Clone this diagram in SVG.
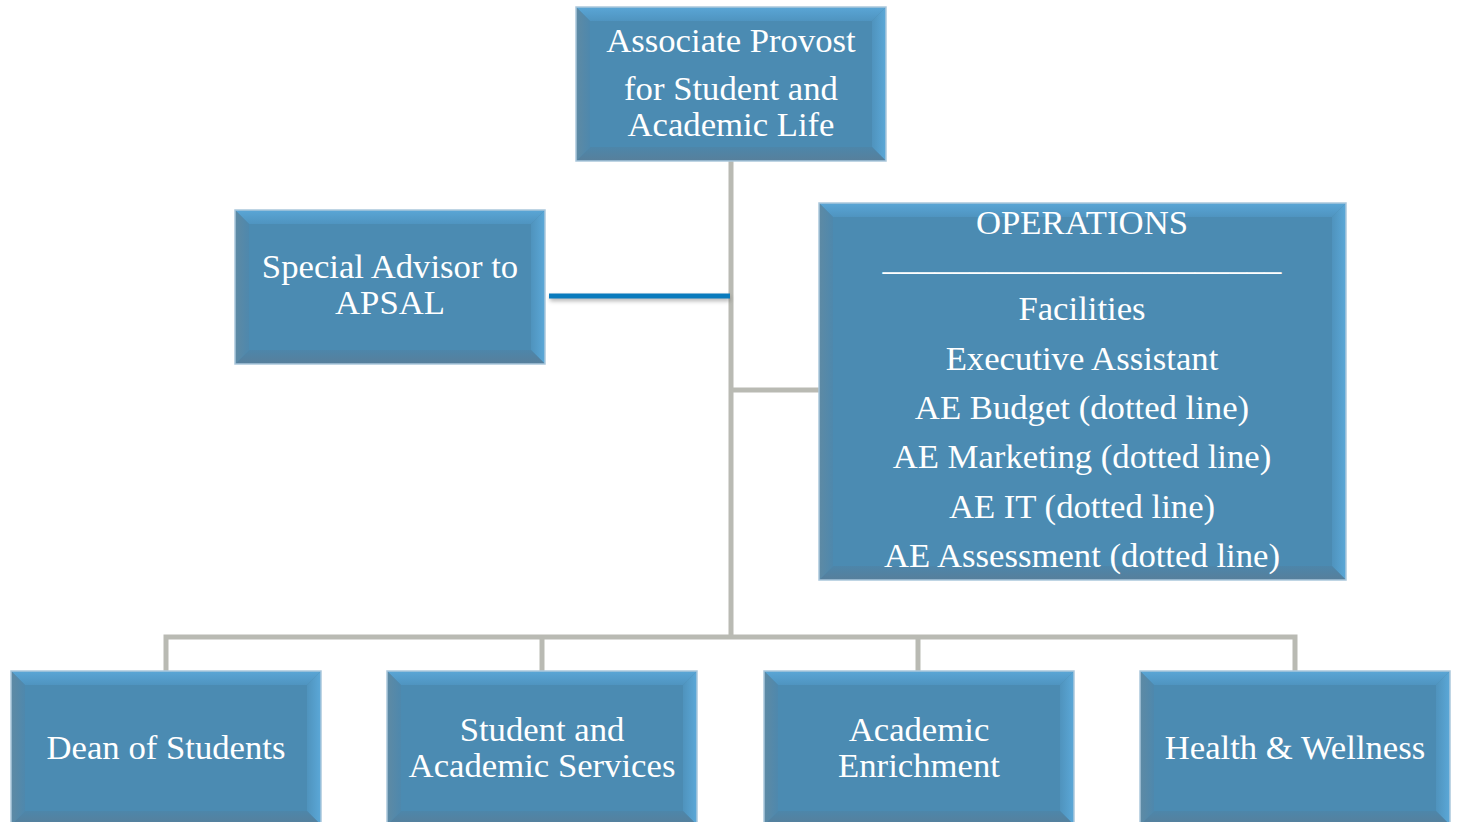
<svg xmlns="http://www.w3.org/2000/svg" xmlns:xlink="http://www.w3.org/1999/xlink" width="1457" height="822" viewBox="0 0 1457 822">
<style>
.t{font-family:"Liberation Serif","Times New Roman",serif;font-size:34.7px;fill:#ffffff;text-anchor:middle}
.face{fill:#4b8bb2}
.bt{fill:url(#gTop)}
.br{fill:url(#gRight)}
.bb{fill:url(#gBot)}
.bl{fill:url(#gLeft)}
.edge{fill:none;stroke:#aac7dc;stroke-width:1.5}
.conn{fill:none;stroke:#b9bab3;stroke-width:5}
</style>
<defs>
<linearGradient id="gTop" x1="0" y1="0" x2="0" y2="1"><stop offset="0" stop-color="#5aa6d6"/><stop offset="1" stop-color="#4f94c0"/></linearGradient>
<linearGradient id="gRight" x1="1" y1="0" x2="0" y2="0"><stop offset="0" stop-color="#5ba8d8"/><stop offset="1" stop-color="#4f93bd"/></linearGradient>
<linearGradient id="gBot" x1="0" y1="1" x2="0" y2="0"><stop offset="0" stop-color="#577f9b"/><stop offset="1" stop-color="#4d86aa"/></linearGradient>
<linearGradient id="gLeft" x1="0" y1="0" x2="1" y2="0"><stop offset="0" stop-color="#5e8aa4"/><stop offset="1" stop-color="#4e88ad"/></linearGradient>
<filter id="sh" filterUnits="userSpaceOnUse" x="530" y="280" width="220" height="40"><feGaussianBlur stdDeviation="2"/></filter>
<g id="box">
<rect class="face" x="0" y="0" width="310" height="154"/>
<polygon class="bt" points="0,0 310,0 296,14 14,14"/>
<polygon class="br" points="310,0 310,154 296,140 296,14"/>
<polygon class="bb" points="0,154 310,154 296,140 14,140"/>
<polygon class="bl" points="0,0 14,14 14,140 0,154"/>
<rect class="edge" x="0" y="0" width="310" height="154"/>
</g>
</defs>
<rect width="1457" height="822" fill="#ffffff"/>
<g id="connectors">
<path class="conn" d="M731,161 V637"/>
<path class="conn" d="M731,390 H819"/>
<path class="conn" d="M166,671 V637 H1295 V671"/>
<path class="conn" d="M542,637 V671"/>
<path class="conn" d="M918,637 V671"/>
<rect x="550" y="296" width="180" height="5" fill="#000" fill-opacity="0.3" filter="url(#sh)"/>
<rect x="549" y="293.5" width="181" height="5" fill="#0a7bbd"/>
</g>
<g id="n-provost" transform="translate(576,7)">
<use xlink:href="#box" href="#box"/>
<text class="t" x="155" y="45">Associate Provost</text>
<text class="t" x="155" y="93">for Student and<tspan x="155" y="129">Academic Life</tspan></text>
</g>
<g id="n-advisor" transform="translate(235,210)">
<use xlink:href="#box" href="#box"/>
<text class="t" x="155" y="68">Special Advisor to<tspan x="155" y="104">APSAL</tspan></text>
</g>
<g id="n-operations" transform="translate(819,203)">
<rect class="face" x="0" y="0" width="527" height="377"/>
<polygon class="bt" points="0,0 527,0 513,14 14,14"/>
<polygon class="br" points="527,0 527,377 513,363 513,14"/>
<polygon class="bb" points="0,377 527,377 513,363 14,363"/>
<polygon class="bl" points="0,0 14,14 14,363 0,377"/>
<rect class="edge" x="0" y="0" width="527" height="377"/>
<text class="t" x="263" y="31">OPERATIONS</text>
<text class="t" x="263" y="67">_______________________</text>
<text class="t" x="263" y="117">Facilities</text>
<text class="t" x="263" y="167">Executive Assistant</text>
<text class="t" x="263" y="216">AE Budget (dotted line)</text>
<text class="t" x="263" y="265">AE Marketing (dotted line)</text>
<text class="t" x="263" y="315">AE IT (dotted line)</text>
<text class="t" x="263" y="364">AE Assessment (dotted line)</text>
</g>
<g id="n-dean" transform="translate(11,671)">
<use xlink:href="#box" href="#box"/>
<text class="t" x="155" y="88">Dean of Students</text>
</g>
<g id="n-sas" transform="translate(387,671)">
<use xlink:href="#box" href="#box"/>
<text class="t" x="155" y="70">Student and<tspan x="155" y="106">Academic Services</tspan></text>
</g>
<g id="n-enrich" transform="translate(764,671)">
<use xlink:href="#box" href="#box"/>
<text class="t" x="155" y="70">Academic<tspan x="155" y="106">Enrichment</tspan></text>
</g>
<g id="n-health" transform="translate(1140,671)">
<use xlink:href="#box" href="#box"/>
<text class="t" x="155" y="88">Health &amp; Wellness</text>
</g>
</svg>
